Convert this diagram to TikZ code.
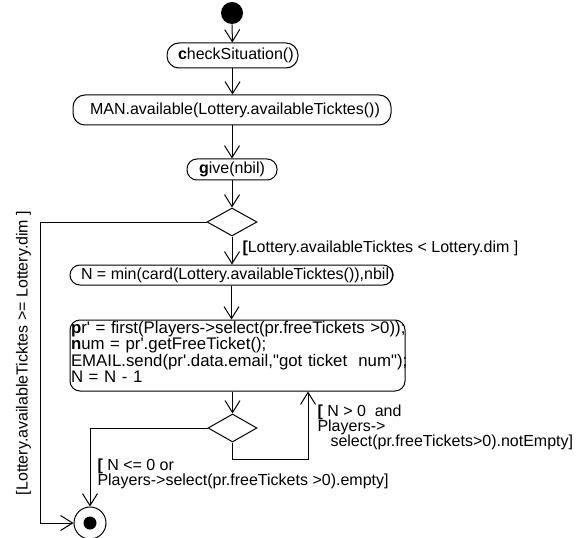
\documentclass[tikz,border=0pt]{standalone}
\usepackage{fontspec}
\setmainfont{Liberation Sans}
\usetikzlibrary{arrows.meta,shapes.geometric}
\begin{document}
\begin{tikzpicture}[x=1pt,y=-1pt,line width=1pt,
  every node/.style={font=\fontsize{16}{17}\selectfont,inner sep=0pt},
  arr/.style={-{Straight Barb[length=12pt,width=15pt]}},
  act/.style={draw,rectangle,rounded corners=#1},
  decision/.style={draw,diamond,minimum width=50pt,minimum height=28pt,inner sep=0pt},
  guard/.style={anchor=base west}]
\useasboundingbox (0,0) rectangle (577,537);
% nodes
\node[fill,circle,minimum size=22pt] (start) at (232,13) {};
\node[act=12pt,minimum width=131pt,minimum height=25pt] (check) at (232.5,55.5)
  {\makebox[109pt][l]{\textbf{c}heckSituation()}};
\node[act=12pt,minimum width=318pt,minimum height=30pt] (man) at (232,110)
  {\makebox[284pt][l]{MAN.available(Lottery.availableTicktes())}};
\node[act=10pt,minimum width=90pt,minimum height=21pt] (give) at (232,169.5)
  {\textbf{g}ive(nbil)};
\node[decision] (d1) at (232,222) {};
\node[act=10pt,minimum width=323pt,minimum height=20pt] (nmin) at (231.5,275)
  {\makebox[301pt][l]{N = min(card(Lottery.availableTicktes()),nbil)}};
\node[act=10pt,text width=333pt,inner xsep=1pt,minimum height=71pt,align=left,
      font=\fontsize{16.8}{14.5}\selectfont] (big) at (237.5,355.5)
  {\mbox{\textbf{p}r\textquotesingle{} = first(Players->select(pr.freeTickets >0));}\\
   \mbox{\textbf{n}um = pr\textquotesingle.getFreeTicket();}\\
   \mbox{EMAIL.send(pr\textquotesingle.data.email,\textquotedbl got ticket~~num\textquotedbl);}\\
   \mbox{N = N - 1\rule[-7.5pt]{0pt}{0pt}}};
\node[decision,minimum width=49pt] (d2) at (232.5,428) {};
\node[draw,circle,minimum size=32pt] (final) at (90,523) {};
\fill (final.center) circle (6.5pt);
% connectors
\draw[arr] (start) -- (check);
\draw[arr] (check.south) -- (check.south |- man.north);
\draw[arr] (man.south) -- (man.south |- give.north);
\draw[arr] (give.south) -- (give.south |- d1.north);
\draw[arr] (d1.south) -- (d1.south |- nmin.north);
\draw[arr] (nmin.south) -- (nmin.south |- big.north);
\draw[arr] (d2.north |- big.south) -- (d2.north);
\coordinate (c1) at (40,222);
\draw[arr] (d1.west) -- (c1) |- (final.west);
\draw[arr] (d2.west) -| (final.north);
\coordinate (c2) at (308,459);
\draw[arr] (d2.south) |- (c2) -- (c2 |- big.south);
% guards
\node[guard] (g1) at (242,252) {\textbf{[}Lottery.availableTicktes < Lottery.dim ]};
\node[guard] (g2a) at (317,416) {\textbf{[} N > 0~~and};
\node[guard] (g2b) at (317,431) {Players->};
\node[guard] (g2c) at (330,446) {select(pr.freeTickets>0).notEmpty]};
\node[guard] (g3a) at (97,470) {\textbf{[} N <= 0 or};
\node[guard] (g3b) at (97,485) {Players->select(pr.freeTickets >0).empty]};
\node[rotate=90,anchor=base] (g4) at (27.5,353) {[Lottery.availableTicktes >= Lottery.dim ]};
\end{tikzpicture}
\end{document}
